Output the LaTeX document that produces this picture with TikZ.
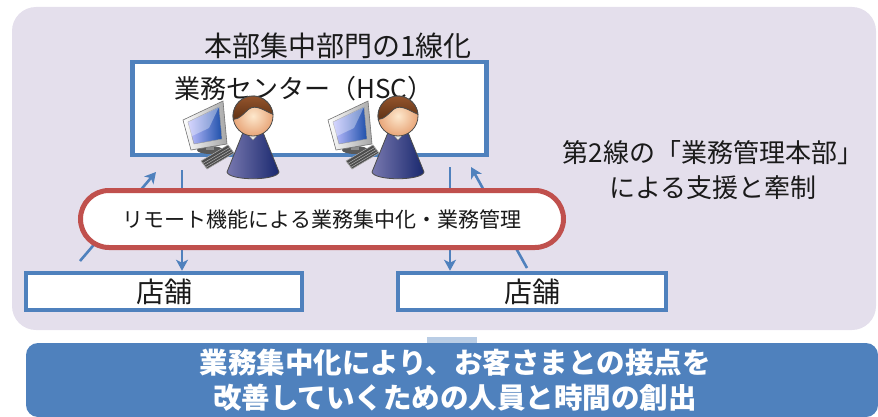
\documentclass[tikz,border=0pt]{standalone}
\usepackage{fontspec}
\newfontfamily\jp{Noto Sans CJK JP}
\usetikzlibrary{arrows.meta,calc}

\definecolor{panelbg}{HTML}{E4DFEC}
\definecolor{boxblue}{HTML}{4F81BD}
\definecolor{pillred}{HTML}{C0504D}
\definecolor{linkblue}{HTML}{B9CDE5}
\definecolor{inktext}{HTML}{1A1A1A}

\tikzset{
  bluebox/.style={draw=boxblue, line width=4.5pt, fill=white, inner sep=0pt},
  flow/.style={draw=boxblue, line width=2.6pt, -{Stealth[length=11pt,width=12pt,inset=3pt]}},
  outline/.style={draw=black!70, line width=0.8pt},
  operator/.pic={
    % monitor stand and base
    \fill[black!65] (-43,34) ellipse[x radius=13, y radius=4];
    \fill[black!45] (-47,26) rectangle (-39,34);
    % monitor housing
    \shade[left color=white, right color=black!35, draw=black!55, line width=0.6pt]
      (-70,4) -- (-30,-15) -- (-26,28) -- (-62,34) -- cycle;
    % screen
    \shade[left color=blue!25!white, right color={rgb,255:red,30;green,80;blue,170}, draw=black!40, line width=0.4pt]
      (-65,6) -- (-34,-9) -- (-31,23) -- (-59,28) -- cycle;
    \fill[white, opacity=0.35] (-65,6) -- (-34,-9) -- (-44,12) -- (-63,21) -- cycle;
    % keyboard
    \fill[black!70, draw=black!35, line width=0.6pt]
      (-52,45) -- (-25,29) -- (-19,37) -- (-46,53) -- cycle;
    \foreach \t in {0.3,0.55,0.8}
      \draw[black!30, line width=0.5pt] ($(-52,45)!\t!(-46,53)$) -- ($(-25,29)!\t!(-19,37)$);
    % body
    \shade[left color={rgb,255:red,120;green,120;blue,175}, right color={rgb,255:red,25;green,40;blue,110}, outline]
      (-9,14) -- (-26,56) .. controls (-24,65) and (24,65) .. (26,56) -- (9,14) -- cycle;
    % collar
    \fill[black!8, draw=black!45, line width=0.5pt] (-9,14) -- (0,24) -- (9,14) -- cycle;
    % head
    \shade[inner color={rgb,255:red,253;green,232;blue,205}, outer color={rgb,255:red,232;green,165;blue,120}, outline]
      (0,0) ellipse[x radius=20, y radius=20];
    % hair
    \shade[top color={rgb,255:red,150;green,85;blue,45}, bottom color={rgb,255:red,95;green,50;blue,20}, outline]
      (-19.7,3.5) arc[start angle=170, end angle=355, x radius=20, y radius=20]
      .. controls (12,-5) and (3,-12) .. (-4,-7)
      .. controls (-9,-3) and (-13,3) .. cycle;
  }
}

\begin{document}
\begin{tikzpicture}[x=1pt, y=-1pt, font=\jp, text=inktext]
\useasboundingbox (0,0) rectangle (878,417);

% lavender background panel and its link to the result bar
\fill[panelbg, rounded corners=24pt] (12,7) rectangle (876,330);
\fill[linkblue] (427,337) rectangle (477,343);

% result bar
\node (result) [fill=boxblue, rounded corners=12pt, minimum width=852pt, minimum height=74pt, inner sep=0pt] at (452,380) {};
\node (resulttext) [text=white, font=\jp\bfseries\fontsize{28.5}{35}\selectfont, align=center, inner sep=0pt] at (455,380)
  {業務集中化により、お客さまとの接点を\\改善していくための人員と時間の創出};

% head office centre
\node (title) [font=\jp\fontsize{28}{30}\selectfont, inner sep=0pt] at (338,46) {本部集中部門の1線化};
\node (hsc) [bluebox, minimum width=354pt, minimum height=93pt] at (309.5,108.5) {};
\node (hsclabel) [anchor=west, font=\jp\fontsize{26}{30}\selectfont, inner sep=0pt] at (174,89) {業務センター（HSC）};

\pic at (253,116) {operator};
\pic at (398,116) {operator};

% stores
\node (store1) [bluebox, minimum width=276pt, minimum height=37pt, font=\jp\fontsize{28}{30}\selectfont] at (164,291.5) {店舗};
\node (store2) [bluebox, minimum width=268pt, minimum height=37pt, font=\jp\fontsize{28}{30}\selectfont] at (532,291.5) {店舗};

% flows between stores and the centre
\coordinate (up1s) at (80,261);
\coordinate (up1e) at (156,172);
\coordinate (dn1s) at (182,170);
\coordinate (dn2s) at (450,167);
\coordinate (up2s) at (527,268);
\coordinate (up2e) at (471,167);
\draw[flow] (up1s) -- (up1e);
\draw[flow] (dn1s) -- (dn1s |- store1.north);
\draw[flow] (dn2s) -- (dn2s |- store2.north);
\draw[flow] (up2s) -- (up2e);

% remote function band
\node (remote) [draw=pillred, line width=5pt, fill=white, rounded corners=28.5pt, minimum width=483pt, minimum height=57pt, font=\jp\fontsize{21}{25}\selectfont] at (322,219)
  {リモート機能による業務集中化・業務管理};

% second line of defence
\node (support) [align=center, font=\jp\fontsize{26}{35}\selectfont, inner sep=0pt] at (713,170)
  {第2線の「業務管理本部」\\による支援と牽制};
\end{tikzpicture}
\end{document}
